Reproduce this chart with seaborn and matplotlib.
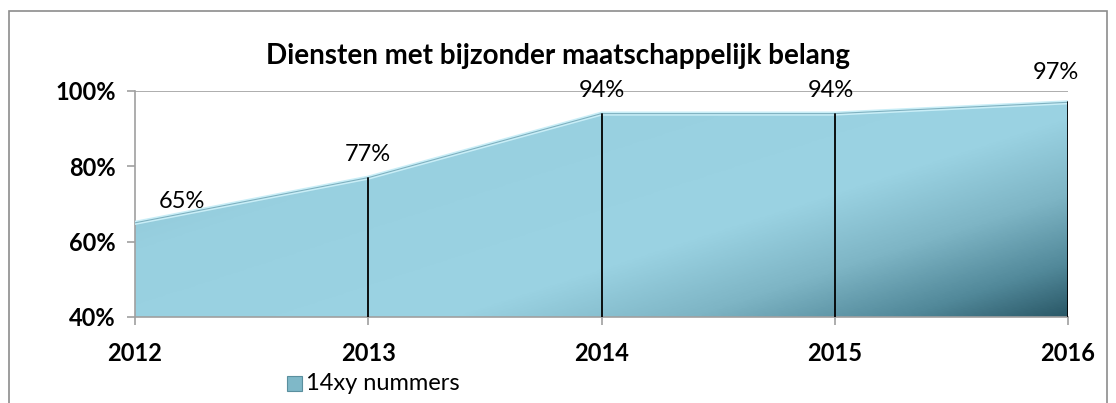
import numpy as np
import pandas as pd
import matplotlib
matplotlib.use("Agg")
import matplotlib.pyplot as plt
import seaborn as sns
from matplotlib.colors import LinearSegmentedColormap
from matplotlib.patches import Rectangle

years = [2012, 2013, 2014, 2015, 2016]
share = [0.65, 0.77, 0.94, 0.94, 0.97]
labels = ["65%", "77%", "94%", "94%", "97%"]
series_name = "14xy nummers"

df = pd.DataFrame({"year": years, "share": share})

sns.set_style("white")
plt.rcParams["font.family"] = ["Lato", "DejaVu Sans"]
plt.rcParams["text.color"] = "black"
plt.rcParams["xtick.color"] = "black"
plt.rcParams["ytick.color"] = "black"

fig = plt.figure(figsize=(11.16, 4.03), dpi=100)
ax = fig.add_axes([0.121, 0.2134, 0.836, 0.5608])

# outer chart frame (bottom edge runs off the image)
fig.patches.append(Rectangle((9 / 1116, -0.02), 1098 / 1116, (403 - 11) / 403 + 0.02,
                             transform=fig.transFigure, fill=False,
                             edgecolor="#8c8c8c", linewidth=1.2))

ax.set_xlim(2012, 2016)
ax.set_ylim(0.4, 1.0)

# gridline at 100%
ax.axhline(1.0, color="#a0a0a0", linewidth=1.2, zorder=0)

# area with gradient
poly = ax.fill_between(df["year"], 0.4, df["share"], color="none", zorder=2)
cmap = LinearSegmentedColormap.from_list(
    "teal", [(0.0, "#84bac9"), (0.3, "#98d0e0"), (0.62, "#9bd3e3"),
             (0.77, "#7eb5c5"), (0.9, "#52899a"), (1.0, "#2a5867")])
xx, yy = np.meshgrid(np.linspace(0, 1, 400), np.linspace(0, 1, 200))
grad = (xx + 0.75 * (1 - yy)) / 1.75
img = ax.imshow(grad, extent=[2012, 2016, 0.4, 1.0], origin="lower",
                aspect="auto", cmap=cmap, zorder=2, vmin=0, vmax=1)
img.set_clip_path(poly.get_paths()[0], transform=ax.transData)

sns.lineplot(data=df, x="year", y="share", color="#c9eef7", linewidth=3,
             ax=ax, zorder=3)
ax.plot(df["year"], df["share"], color="#7fb1c0", linewidth=0.8, zorder=3)

# vertical drop lines
for yr, v in zip(years[1:], share[1:]):
    ax.plot([yr, yr], [0.4, v], color="black", linewidth=1.3, zorder=4)

# data labels
dx = [34, 0, 0, -3, -9]
dy = [8, 9, 9, 9, 14]
for yr, v, lab, ox, oy in zip(years, share, labels, dx, dy):
    ax.annotate(lab, (yr, v), xytext=(ox, oy), textcoords="offset points",
                ha="center", va="bottom", fontsize=17, color="black", zorder=5)

ax.set_xticks(years)
ax.set_xticklabels([str(y) for y in years], fontsize=17, fontweight="bold")
ax.set_yticks([0.4, 0.6, 0.8, 1.0])
ax.set_yticklabels(["40%", "60%", "80%", "100%"], fontsize=17, fontweight="bold")
ax.tick_params(axis="both", length=6, color="#a0a0a0", width=1.2, direction="out",
               bottom=True, left=True, labelcolor="black")
ax.tick_params(axis="x", pad=12)
ax.tick_params(axis="y", pad=8)
for side in ["top", "right"]:
    ax.spines[side].set_visible(False)
for side in ["left", "bottom"]:
    ax.spines[side].set_color("#a0a0a0")
    ax.spines[side].set_linewidth(1.2)
ax.set_xlabel("")
ax.set_ylabel("")

fig.text(0.5, 0.862, "Diensten met bijzonder maatschappelijk belang",
         ha="center", va="center", fontsize=20, fontweight="bold", color="black")

# legend
fig.patches.append(Rectangle((287 / 1116, (403 - 391) / 403), 15 / 1116, 15 / 403,
                             transform=fig.transFigure, facecolor="#7fb8c8",
                             edgecolor="#5a8f9e", linewidth=0.8))
fig.text(306 / 1116, (403 - 383) / 403, series_name, ha="left", va="center",
         fontsize=17, color="black")

fig.savefig("out.png", dpi=100)
